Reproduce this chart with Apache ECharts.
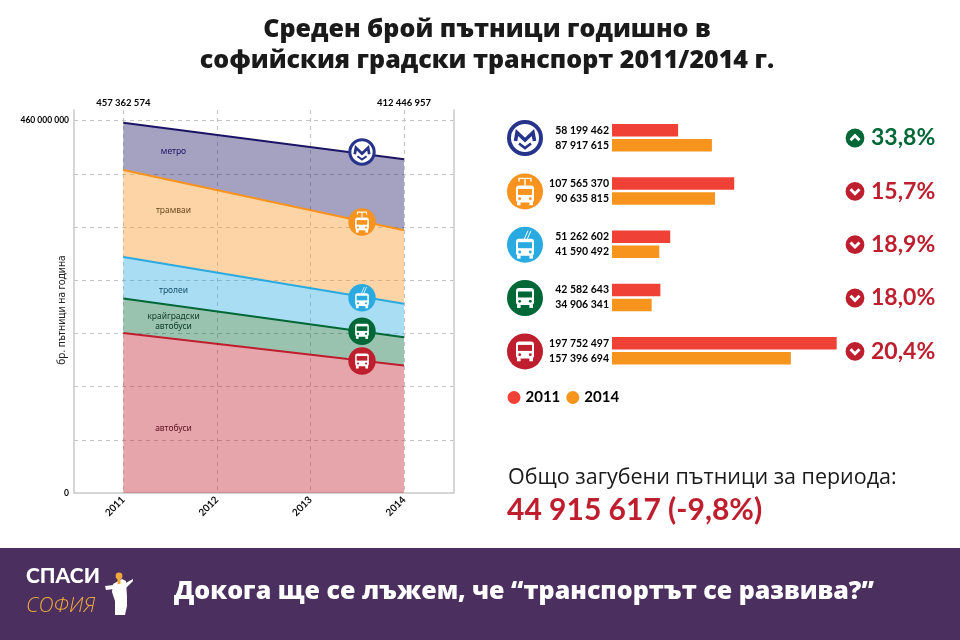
<!DOCTYPE html>
<html>
<head>
<meta charset="utf-8">
<title>Среден брой пътници</title>
<script src="https://cdn.jsdelivr.net/npm/echarts@6/dist/echarts.min.js"></script>
<style>
    html, body { margin: 0; padding: 0; background: #fff; }
    #chart { width: 960px; height: 640px; }
</style>
</head>
<body>
<div id="chart"></div>
<script>
// данни
const transport = ['метро', 'трамваи', 'тролеи', 'крайградски автобуси', 'автобуси'];
const values2011 = [58199462, 107565370, 51262602, 42582643, 197752497];
const values2014 = [87917615, 90635815, 41590492, 34906341, 157396694];
const percents = ['33,8%', '15,7%', '18,9%', '18,0%', '20,4%'];
const trendUp = [true, false, false, false, false];
const lineColors = ['#1b1464', '#f7931e', '#29abe2', '#006837', '#be1e2d'];
const iconColors = ['#27348b', '#f7931e', '#29abe2', '#006837', '#be1e2d'];
const iconKinds = ['metro', 'tram', 'trolley', 'bus', 'bus'];
const years = ['2011', '2012', '2013', '2014'];
const dataYears = ['2011', '2014'];
const yTicks = [0, 460000000];
const lostText = '44 915 617 (-9,8%)';

const GREEN = '#006837', RED = '#be1e2d', DASH = '#c4c4c4', FRAME = '#c9c9c9';
const LATO = 'Lato, "Open Sans", sans-serif';
const HEAD = '"Open Sans", "Noto Sans", sans-serif';

function fmt(v) {
    return String(Math.round(v)).replace(/\B(?=(\d{3})+$)/g, ' ');
}
function sum(arr) {
    return arr.reduce((a, b) => a + b, 0);
}

// текст в пиксели
function txt(x, y, text, font, color, align, extra) {
    return Object.assign({
        type: 'text', x: x, y: y, z: 50, silent: true,
        style: { text: text, font: font, fill: color, align: align || 'left', verticalAlign: 'middle' }
    }, extra || {});
}

function busGlyph(color, dy) {
    return [
        { type: 'rect', z: 51, shape: { x: -9, y: -9 + dy, width: 18, height: 17, r: 3 }, style: { fill: '#fff' } },
        { type: 'rect', z: 52, shape: { x: -7, y: -5.5 + dy, width: 14, height: 6 }, style: { fill: color } },
        { type: 'circle', z: 52, shape: { cx: -5.3, cy: 4.3 + dy, r: 1.4 }, style: { fill: color } },
        { type: 'circle', z: 52, shape: { cx: 5.3, cy: 4.3 + dy, r: 1.4 }, style: { fill: color } },
        { type: 'rect', z: 51, shape: { x: -8, y: 7.5 + dy, width: 3.6, height: 3.4 }, style: { fill: '#fff' } },
        { type: 'rect', z: 51, shape: { x: 4.4, y: 7.5 + dy, width: 3.6, height: 3.4 }, style: { fill: '#fff' } }
    ];
}

// иконите на транспорта - само украса
function icon(x, y, r, kind, color) {
    let children = [{ type: 'circle', z: 50, shape: { cx: 0, cy: 0, r: 18 }, style: { fill: color } }];
    if (kind === 'metro') {
        children = [
            { type: 'circle', z: 50, shape: { cx: 0, cy: 0, r: 16 }, style: { fill: '#fff', stroke: color, lineWidth: 4 } },
            { type: 'polyline', z: 51, shape: { points: [[-9.5, 3], [-8, -5.5], [0, 2], [8, -5.5], [9.5, 3]] }, style: { stroke: color, lineWidth: 3.6, fill: null } },
            { type: 'polyline', z: 51, shape: { points: [[-6, 5.5], [0, 10], [6, 5.5]] }, style: { stroke: color, lineWidth: 2.6, fill: null } }
        ];
    } else if (kind === 'tram') {
        children = children.concat(busGlyph(color, 3), [
            { type: 'polyline', z: 51, shape: { points: [[-6, -10], [-6, -13], [6, -13], [6, -10]] }, style: { stroke: '#fff', lineWidth: 1.4, fill: null } },
            { type: 'line', z: 51, shape: { x1: 0, y1: -13, x2: 0, y2: -6 }, style: { stroke: '#fff', lineWidth: 1.4 } }
        ]);
    } else if (kind === 'trolley') {
        children = children.concat(busGlyph(color, 3), [
            { type: 'line', z: 51, shape: { x1: -1, y1: -5, x2: 3, y2: -14 }, style: { stroke: '#fff', lineWidth: 1 } },
            { type: 'line', z: 51, shape: { x1: 2, y1: -5, x2: 6, y2: -14 }, style: { stroke: '#fff', lineWidth: 1 } }
        ]);
    } else {
        children = children.concat(busGlyph(color, -1));
    }
    return { type: 'group', x: x, y: y, scaleX: r / 18, scaleY: r / 18, silent: true, children: children };
}

function arrow(x, y, up, color) {
    const s = up ? 1 : -1;
    return {
        type: 'group', x: x, y: y, silent: true,
        children: [
            { type: 'circle', z: 50, shape: { cx: 0, cy: 0, r: 9.4 }, style: { fill: color } },
            { type: 'polyline', z: 51, shape: { points: [[-4.5, 2.2 * s], [0, -2.3 * s], [4.5, 2.2 * s]] }, style: { stroke: '#fff', lineWidth: 3, fill: null } }
        ]
    };
}

// области - отдолу нагоре, само двете крайни години са известни
const areaSeries = transport.map((name, i) => ({
    name: name,
    type: 'line',
    stack: 'total',
    xAxisIndex: 2,
    yAxisIndex: 2,
    symbol: 'none',
    silent: true,
    lineStyle: { color: lineColors[i], width: 2 },
    areaStyle: { color: lineColors[i], opacity: 0.4 },
    data: [values2011[i], values2014[i]],
    z: 3
})).reverse();

const barSeries = [
    { name: '2011', data: values2011, color: '#f04136' },
    { name: '2014', data: values2014, color: '#f7941d' }
].map(s => ({
    name: s.name,
    type: 'bar',
    xAxisIndex: 3,
    yAxisIndex: 3,
    barWidth: 12.5,
    barGap: '20%',
    silent: true,
    itemStyle: { color: s.color },
    label: {
        show: true, position: 'left', distance: 3, color: '#000',
        fontFamily: LATO, fontWeight: 'bold', fontSize: 10.5,
        formatter: p => fmt(p.value)
    },
    data: s.data
}));

const rowY = [138, 191.4, 244.7, 298, 351.4];
const plotIconY = [152, 222, 297.7, 331.3, 361];
const smallFont = '8.5px "Noto Sans", sans-serif';

const graphics = [
    { type: 'rect', z: 40, silent: true, shape: { x: 0, y: 548, width: 960, height: 92 }, style: { fill: '#4a2f5f' } },
    txt(487, 30, 'Среден брой пътници годишно в', '800 25px ' + HEAD, '#1a1a1a', 'center'),
    txt(487, 61, 'софийския градски транспорт 2011/2014 г.', '800 25px ' + HEAD, '#1a1a1a', 'center'),
    txt(62, 310, 'бр. пътници на година', '10px "Noto Sans", sans-serif', '#222', 'center', { rotation: Math.PI / 2 }),
    txt(173.5, 152, 'метро', smallFont, '#1b1464', 'center'),
    txt(173.5, 211, 'трамваи', smallFont, '#6b4a20', 'center'),
    txt(173.5, 291, 'тролеи', smallFont, '#14506e', 'center'),
    txt(173.5, 317, 'крайградски', smallFont, '#0c3b24', 'center'),
    txt(173.5, 327, 'автобуси', smallFont, '#0c3b24', 'center'),
    txt(173.5, 429, 'автобуси', smallFont, '#5e1420', 'center'),
    txt(508, 478, 'Общо загубени пътници за периода:', '21.5px ' + HEAD, '#1a1a1a'),
    txt(507, 510, lostText, 'bold 30px ' + LATO, RED),
    // лого и долен надпис
    txt(26, 576, 'СПАСИ', '900 21px ' + LATO, '#fff'),
    txt(26, 606, 'СОФИЯ', 'italic 300 21px "Open Sans", sans-serif', '#f2a93b'),
    txt(174, 592, 'Докога ще се лъжем, че “транспортът се развива?”', '800 25px ' + HEAD, '#fff'),
    { type: 'polygon', z: 51, silent: true, shape: { points: [[113, 584], [122, 579], [126, 581], [127, 597], [127, 606], [125, 615], [115, 615], [115, 601], [112, 592]] }, style: { fill: '#fff' } },
    { type: 'polygon', z: 51, silent: true, shape: { points: [[105, 586], [114, 585], [114, 589], [106, 590]] }, style: { fill: '#fff' } },
    { type: 'polygon', z: 51, silent: true, shape: { points: [[124, 584], [133, 579], [133, 581], [125, 589]] }, style: { fill: '#fff' } },
    { type: 'circle', z: 52, silent: true, shape: { cx: 119, cy: 576, r: 3.4 }, style: { fill: '#f2a93b' } },
    { type: 'rect', z: 52, silent: true, shape: { x: 117.5, y: 579, width: 3, height: 5 }, style: { fill: '#f2a93b' } }
];

iconKinds.forEach((kind, i) => {
    graphics.push(icon(362, plotIconY[i], 13.7, kind, iconColors[i]));
    graphics.push(icon(525, rowY[i], 18, kind, iconColors[i]));
    const c = trendUp[i] ? GREEN : RED;
    graphics.push(arrow(855, rowY[i], trendUp[i], c));
    graphics.push(txt(871, rowY[i], percents[i], 'bold 23px ' + LATO, c));
});

const yMax = 473200000; // осите стърчат малко над 460 000 000
const yStep = 65714286;

const option = {
    animation: false,
    textStyle: { fontFamily: LATO },
    grid: [
        { left: 74, top: 110, width: 379.5, height: 383 },
        { left: 123.3, top: 110, width: 280.7, height: 383 },
        { left: 612, top: 111, width: 224.7, height: 266.5 }
    ],
    xAxis: [
        { // рамка
            gridIndex: 0, type: 'value', min: 0, max: 1,
            axisLine: { show: true, lineStyle: { color: FRAME, width: 1.5 } },
            axisTick: { show: false }, axisLabel: { show: false }, splitLine: { show: false }
        },
        { // години
            gridIndex: 1, type: 'category', boundaryGap: false, data: years,
            axisLine: { show: false }, axisTick: { show: false },
            axisLabel: {
                interval: 0, rotate: 45, margin: 5, color: '#111', fontWeight: 'bold', fontSize: 10, fontFamily: LATO
            },
            splitLine: { show: true, interval: 0, lineStyle: { color: DASH, type: [4, 4], width: 1 } }
        },
        { // суми отгоре, на нея стоят областите
            gridIndex: 1, type: 'category', position: 'top', boundaryGap: false, data: dataYears,
            axisLine: { show: false }, axisTick: { show: false }, splitLine: { show: false },
            axisLabel: {
                interval: 0, margin: 2, color: '#000', fontWeight: 'bold', fontSize: 9.5, fontFamily: LATO,
                formatter: v => v === dataYears[0] ? fmt(sum(values2011)) : fmt(sum(values2014))
            }
        },
        { gridIndex: 2, type: 'value', min: 0, max: 197752497, show: false }
    ],
    yAxis: [
        {
            gridIndex: 0, type: 'value', min: 0, max: yMax, interval: yStep,
            axisLine: { show: true, lineStyle: { color: FRAME, width: 1.5 } },
            axisTick: { show: false },
            axisLabel: {
                color: '#000', fontWeight: 'bold', fontSize: 8.5, fontFamily: LATO, margin: 5,
                padding: [0, 0, 6, 0],
                showMaxLabel: false,
                formatter: v => v === yTicks[0] ? '0' : Math.abs(v - yTicks[1]) < 100 ? fmt(yTicks[1]) : ''
            },
            splitLine: { show: true, showMinLine: false, showMaxLine: false, lineStyle: { color: DASH, type: [4, 4], width: 1 } }
        },
        {
            gridIndex: 0, type: 'value', position: 'right', min: 0, max: yMax,
            axisLine: { show: true, lineStyle: { color: FRAME, width: 1.5 } },
            axisTick: { show: false }, axisLabel: { show: false }, splitLine: { show: false }
        },
        { gridIndex: 1, type: 'value', min: 0, max: yMax, show: false },
        { gridIndex: 2, type: 'category', inverse: true, data: transport, show: false }
    ],
    legend: {
        data: ['2011', '2014'],
        left: 502.5, top: 385,
        icon: 'circle',
        itemWidth: 13, itemHeight: 13, itemGap: 6,
        selectedMode: false,
        textStyle: { color: '#000', fontFamily: LATO, fontWeight: 'bold', fontSize: 15 }
    },
    graphic: graphics,
    series: areaSeries.concat(barSeries)
};

const myChart = echarts.init(document.getElementById('chart'), null, { renderer: 'canvas' });
myChart.setOption(option);
</script>
</body>
</html>
